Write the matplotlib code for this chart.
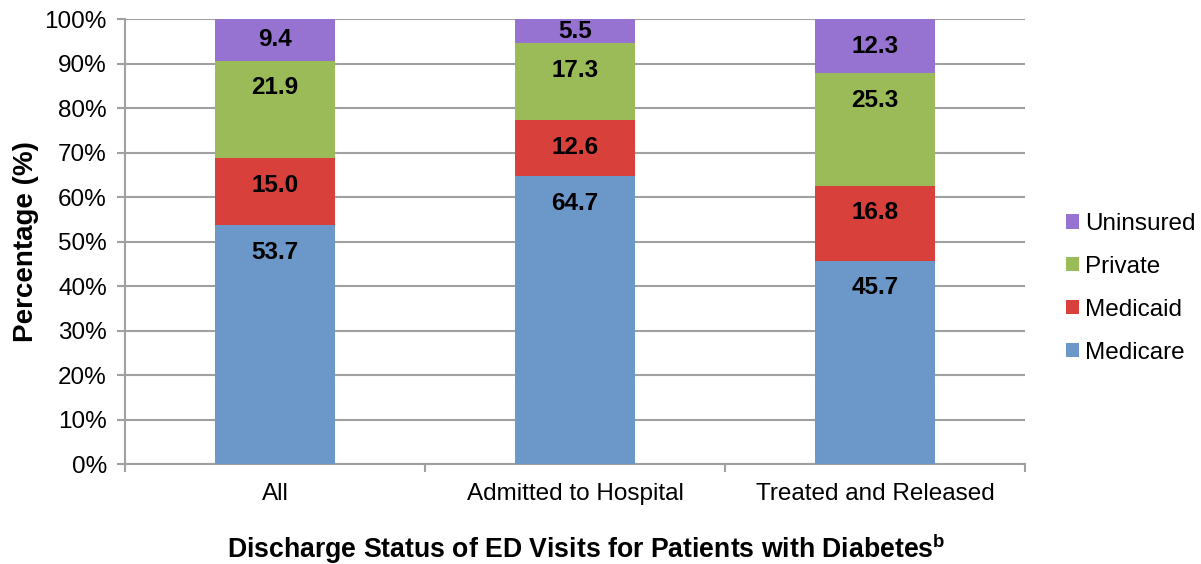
import numpy as np
import matplotlib
matplotlib.use('Agg')
import matplotlib.pyplot as plt

plt.rcParams['font.family'] = ['Liberation Sans', 'DejaVu Sans']
plt.rcParams['mathtext.fontset'] = 'custom'
plt.rcParams['mathtext.bf'] = 'Liberation Sans:bold'
plt.rcParams['mathtext.rm'] = 'Liberation Sans'

# data
categories = ['All', 'Admitted to Hospital', 'Treated and Released']
medicare = [53.7, 64.7, 45.7]
medicaid = [15.0, 12.6, 16.8]
private = [21.9, 17.3, 25.3]
uninsured = [9.4, 5.5, 12.3]

series = [('Medicare', medicare, '#6C97C9'),
          ('Medicaid', medicaid, '#D7403B'),
          ('Private', private, '#9BBB59'),
          ('Uninsured', uninsured, '#9673D0')]

fig = plt.figure(figsize=(12.01, 5.64), dpi=100)
ax = fig.add_axes([0.1041, 0.1773, 0.7494, 0.789])

x = np.arange(len(categories))
bottom = np.zeros(len(categories))
handles = []
for name, vals, col in series:
    vals = np.array(vals)
    b = ax.bar(x, vals, 0.4, bottom=bottom, color=col, label=name, zorder=3)
    handles.append(b)
    # labels sit near the top of each segment ("inside end")
    for xi, v, bt in zip(x, vals, bottom):
        top = min(bt + v, 100)
        y = top - min(6.07, (top - bt) / 2)
        ax.text(xi, y, f'{v:.1f}', ha='center', va='center',
                fontsize=17.5, fontweight='bold', color='black', zorder=4)
    bottom = bottom + vals

ax.set_xlim(-0.5, 2.5)
ax.set_ylim(0, 100)
ax.set_yticks(np.arange(0, 101, 10))
ax.set_yticklabels([f'{t}%' for t in range(0, 101, 10)])
ax.yaxis.grid(True, color='#A0A0A0', linewidth=1.5, zorder=0)
ax.set_xticks(x)
ax.set_xticklabels(categories)
ax.set_xticks([-0.5, 0.5, 1.5, 2.5], minor=True)
ax.tick_params(axis='x', which='major', length=0, pad=14, labelsize=17.5)
ax.tick_params(axis='x', which='minor', length=6, width=1.5, color='#A0A0A0', direction='out')
ax.tick_params(axis='y', length=6, width=1.5, color='#A0A0A0', pad=7, labelsize=17.5)

for s in ['top', 'right']:
    ax.spines[s].set_visible(False)
for s in ['left', 'bottom']:
    ax.spines[s].set_color('#A0A0A0')
    ax.spines[s].set_linewidth(1.5)

ax.set_ylabel('Percentage (%)', fontsize=20, fontweight='bold', labelpad=4)
ax.set_xlabel('Discharge Status of ED Visits for Patients with Diabetes$^{\\mathbf{b}}$',
              fontsize=19.2, fontweight='bold')
ax.xaxis.set_label_coords(0.512, -0.151)

leg = ax.legend(handles[::-1], [s[0] for s in series][::-1],
                loc='center left', frameon=False,
                borderpad=0, borderaxespad=0,
                fontsize=17.5, handlelength=0.54, handleheight=0.54,
                handletextpad=0.25, labelspacing=0.86)
leg.set_bbox_to_anchor((1.0456, 0.395), transform=ax.transAxes)

fig.savefig('out.png', dpi=100)
